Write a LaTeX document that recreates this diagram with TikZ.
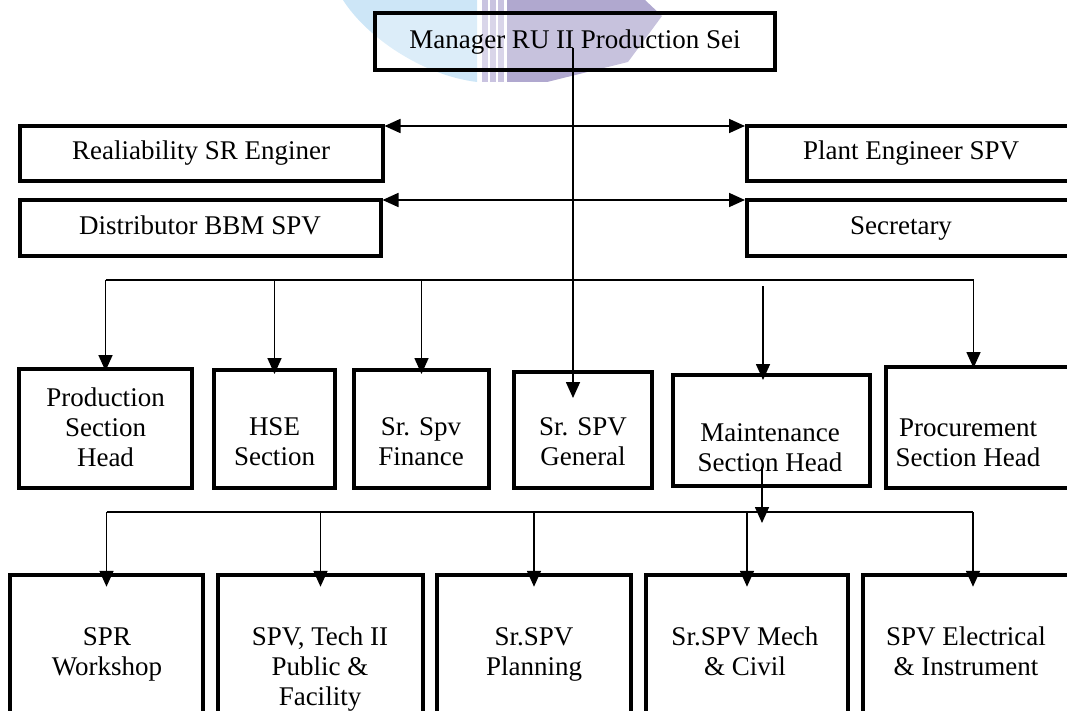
\documentclass[tikz,border=0pt]{standalone}
\usepackage{fontspec}
\setmainfont{Liberation Serif}
\usepackage{xcolor}
\usepackage{tikz}
\usetikzlibrary{arrows.meta}

\definecolor{wmblue}{HTML}{CDE6F7}
\definecolor{wmpurple}{HTML}{B0A8CF}
\definecolor{wmstripe}{HTML}{C9C3E0}

\tikzset{
  box/.style={draw, line width=4pt, fill=white, inner sep=0pt},
  oneline/.style={text height=19pt, text depth=6pt},
  txt/.style={align=center, inner sep=0pt, anchor=north},
  arr/.style={line width=1.7pt, -{Triangle[length=16pt,width=14pt]}},
  both/.style={line width=1.7pt, {Triangle[length=16pt,width=14pt]}-{Triangle[length=16pt,width=14pt]}},
  bus/.style={line width=1.3pt}
}

\begin{document}
\begin{tikzpicture}[x=1pt, y=-1pt, font=\fontsize{27}{30}\selectfont]
	\useasboundingbox (0,0) rectangle (1067,711);

	% logo behind the top box
	\fill[wmblue] (343,0) .. controls (365,35) and (420,75) .. (477,82) -- (477,0) -- cycle;
	\foreach \x in {482,490,498}
		\fill[wmstripe] (\x,0) rectangle (\x+6,82);
	\fill[wmpurple] (507,0) -- (645,0) -- (662,16) -- (628,62) -- (547,82) -- (507,82) -- cycle;

	% top level
	\node[box, oneline, fill opacity=0.3, text opacity=1, minimum width=400pt, minimum height=57pt] (mgr) at (575,42) {Manager RU II Production Sei};

	% staff boxes
	\node[box, oneline, minimum width=363pt, minimum height=55pt] (reali) at (201,153.5) {Realiability SR Enginer};
	\node[box, oneline, minimum width=328pt, minimum height=55pt] (plant) at (911,153.5) {Plant Engineer SPV};
	\node[box, oneline, minimum width=361pt, minimum height=56pt] (distr) at (200,228) {Distributor BBM SPV};
	\node[box, oneline, minimum width=328pt, minimum height=56pt] (secr) at (911,228) {\hspace*{-20pt}Secretary};

	% sections
	\node[box, minimum width=173pt, minimum height=119pt] (prod) at (105.5,428.5) {};
	\node[box, minimum width=121pt, minimum height=118pt] (hse) at (274.5,429) {};
	\node[box, minimum width=135pt, minimum height=118pt] (fin) at (421.5,429) {};
	\node[box, minimum width=138pt, minimum height=116pt] (gen) at (583,430) {};
	\node[box, minimum width=197pt, minimum height=111pt] (maint) at (771.5,430.5) {};
	\node[box, minimum width=189pt, minimum height=121pt] (proc) at (980.5,427.5) {};

	\node[txt] (prod-t) at (105.5,388) {Production\\Section\\Head};
	\node[txt] (hse-t) at (274.5,417) {HSE\\Section};
	\node[txt] (fin-t) at (421,417) {Sr. Spv\\Finance};
	\node[txt] (gen-t) at (583,417) {Sr. SPV\\General};
	\node[txt] (maint-t) at (770,423) {Maintenance\\Section Head};
	\node[txt] (proc-t) at (968,419) {Procurement\\Section Head};

	% maintenance units
	\node[box, line width=4.5pt, minimum width=193pt, minimum height=185pt] (spr) at (106.5,667.5) {};
	\node[box, line width=4.5pt, minimum width=205pt, minimum height=185pt] (tech) at (320.5,667.5) {};
	\node[box, line width=4.5pt, minimum width=194pt, minimum height=185pt] (plan) at (534,667.5) {};
	\node[box, line width=4.5pt, minimum width=202pt, minimum height=185pt] (mech) at (747,667.5) {};
	\node[box, line width=4.5pt, minimum width=212pt, minimum height=185pt] (elec) at (969,667.5) {};

	\node[txt] (spr-t) at (107,627) {SPR\\Workshop};
	\node[txt] (tech-t) at (320,627) {SPV, Tech II\\Public \&\\Facility};
	\node[txt] (plan-t) at (534,627) {Sr.SPV\\Planning};
	\node[txt] (mech-t) at (745,627) {Sr.SPV Mech\\\& Civil};
	\node[txt] (elec-t) at (966,627) {SPV Electrical\\\& Instrument};

	% trunk from the manager
	\coordinate (trunk) at (573,48);
	\coordinate (gen-in) at (573,398);
	\draw[arr] (trunk) -- (gen-in);

	\draw[both] ([yshift=-2pt]reali.north east) -- ([yshift=-2pt]plant.north west);
	\draw[both] ([yshift=-2pt]distr.north east) -- ([yshift=-2pt]secr.north west);

	% first bus
	\coordinate (busA) at (0,280);
	\draw[bus] (prod.north |- busA) -- ([xshift=-7pt]proc.north |- busA);
	\draw[arr] (prod.north |- busA) -- ([yshift=-4pt]prod.north);
	\draw[arr] (hse.north |- busA) -- ([yshift=-6pt]hse.north);
	\draw[arr] (fin.north |- busA) -- ([yshift=-6pt]fin.north);
	\draw[arr] ([xshift=-7pt]proc.north |- busA) -- ([xshift=-7pt,yshift=-3pt]proc.north);

	\coordinate (maint-in) at (763,286);
	\draw[arr] (maint-in) -- ([yshift=-7pt]maint-in |- maint.north);

	% second bus
	\coordinate (maint-out) at (762,467);
	\coordinate (maint-down) at (762,523);
	\draw[arr] (maint-out) -- (maint-down);

	\coordinate (busB) at (0,512);
	\draw[bus] (spr.north |- busB) -- ([xshift=4pt]elec.north |- busB);
	\foreach \n in {spr,tech,plan,mech}
		\draw[arr] (\n.north |- busB) -- ([yshift=-14pt]\n.north);
	\draw[arr] ([xshift=4pt]elec.north |- busB) -- ([xshift=4pt,yshift=-14pt]elec.north);
\end{tikzpicture}
\end{document}
